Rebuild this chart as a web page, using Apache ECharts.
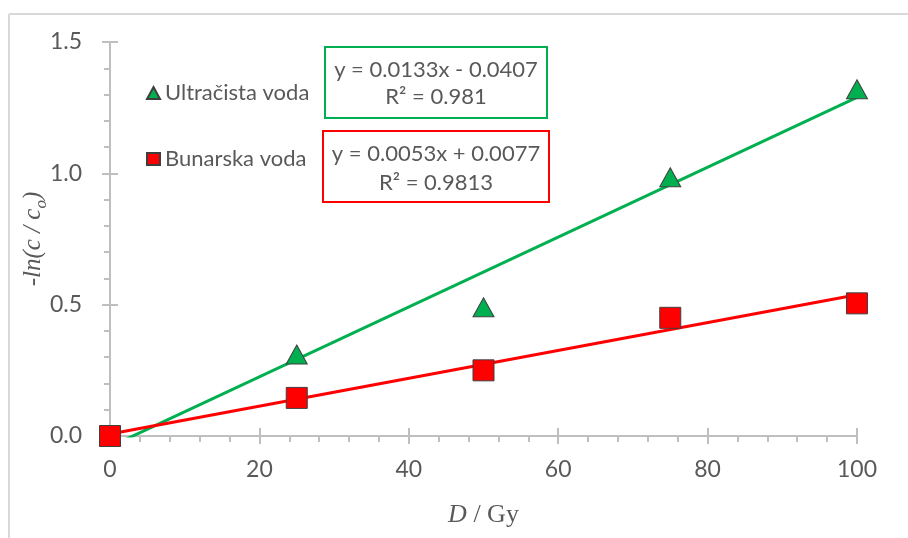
<!DOCTYPE html>
<html>
<head>
<meta charset="utf-8">
<title>-ln(c/co) vs D</title>
<script src="https://cdn.jsdelivr.net/npm/echarts@6/dist/echarts.min.js"></script>
<style>
    html, body { margin: 0; padding: 0; background: #fff; }
    #chart { width: 908px; height: 538px; }
</style>
</head>
<body>
<div id="chart"></div>
<script>
// doza (Gy)
var doseGy = [0, 25, 50, 75, 100];
// -ln(c/co)
var ultraValues = [0, 0.31, 0.49, 0.985, 1.32];
var bunarValues = [0, 0.145, 0.25, 0.45, 0.505];
var seriesNames = ['Ultračista voda', 'Bunarska voda'];
// linearni trend: y = a*x + b
var fitSlope = [0.0133, 0.0053];
var fitIntercept = [-0.0407, 0.0077];
var fitR2 = ['0.981', '0.9813'];
var xTicks = [0, 20, 40, 60, 80, 100];
var yTicks = ['0.0', '0.5', '1.0', '1.5'];

var green = '#00B050';
var red = '#FF0000';
var textGray = '#595959';
var axisGray = '#BFBFBF';

function pairs(xs, ys) {
    return xs.map(function (x, i) { return [x, ys[i]]; });
}

function trendData(k) {
    var x0 = doseGy[0], x1 = doseGy[doseGy.length - 1];
    return [[x0, fitSlope[k] * x0 + fitIntercept[k]], [x1, fitSlope[k] * x1 + fitIntercept[k]]];
}

function eqText(k) {
    var b = fitIntercept[k];
    return 'y = ' + fitSlope[k].toFixed(4) + 'x ' + (b < 0 ? '- ' : '+ ') + Math.abs(b).toFixed(4) +
        '\nR² = ' + fitR2[k];
}

var myChart = echarts.init(document.getElementById('chart'));

var baseAxis = {
    type: 'value',
    axisLine: { show: true, lineStyle: { color: axisGray, width: 2 } },
    splitLine: { show: false }
};

var option = {
    animation: false,
    backgroundColor: '#fff',
    grid: { left: 110, right: 51, top: 42, bottom: 102 },
    legend: {
        data: seriesNames,
        orient: 'vertical',
        left: 141,
        top: 77,
        itemGap: 44,
        itemWidth: 13,
        itemHeight: 12,
        textStyle: { color: textGray, fontFamily: 'Lato', fontSize: 22 }
    },
    xAxis: [
        Object.assign({}, baseAxis, {
            min: 0, max: 100, interval: 20,
            name: '{i|D}{n| / Gy}',
            nameLocation: 'middle',
            nameGap: 66,
            nameMoveOverlap: false,
            nameTextStyle: {
                rich: {
                    i: { fontFamily: 'Liberation Serif', fontStyle: 'italic', fontSize: 26, color: textGray },
                    n: { fontFamily: 'Liberation Serif', fontSize: 26, color: textGray }
                }
            },
            axisTick: { show: true, length: 8, lineStyle: { color: axisGray, width: 2 } },
            minorTick: { show: true, splitNumber: 5, length: 6, lineStyle: { color: axisGray, width: 2 } },
            axisLabel: {
                margin: 22, color: textGray, fontFamily: 'Lato', fontSize: 23,
                formatter: function (v) { return xTicks.indexOf(v) >= 0 ? String(v) : ''; }
            }
        }),
        Object.assign({}, baseAxis, {
            min: 0, max: 100, interval: 20, position: 'bottom',
            axisLine: { show: false },
            axisTick: { show: true, inside: true, length: 8, lineStyle: { color: axisGray, width: 2 } },
            axisLabel: { show: false }
        })
    ],
    yAxis: [
        Object.assign({}, baseAxis, {
            min: 0, max: 1.5, interval: 0.5,
            name: '{i|-ln(c / c}{s|o}{i|)}',
            nameLocation: 'middle',
            nameRotate: 90,
            nameGap: 62,
            nameMoveOverlap: false,
            nameTextStyle: {
                rich: {
                    i: { fontFamily: 'Liberation Serif', fontStyle: 'italic', fontSize: 25, color: textGray, lineHeight: 30 },
                    s: { fontFamily: 'Liberation Serif', fontStyle: 'italic', fontSize: 17, color: textGray, lineHeight: 30, verticalAlign: 'bottom', padding: [0, 0, -2, 0] }
                }
            },
            axisTick: { show: true, length: 8, lineStyle: { color: axisGray, width: 2 } },
            minorTick: { show: true, splitNumber: 5, length: 6, lineStyle: { color: axisGray, width: 2 } },
            axisLabel: {
                margin: 28, color: textGray, fontFamily: 'Lato', fontSize: 23,
                formatter: function (v) { return yTicks[Math.round(v / 0.5)]; }
            }
        }),
        Object.assign({}, baseAxis, {
            min: 0, max: 1.5, interval: 0.5, position: 'left',
            axisLine: { show: false },
            axisTick: { show: true, inside: true, length: 8, lineStyle: { color: axisGray, width: 2 } },
            axisLabel: { show: false }
        })
    ],
    series: [
        {
            name: 'trend-ultra',
            type: 'line',
            data: trendData(0),
            showSymbol: false,
            clip: true,
            z: 2,
            lineStyle: { color: green, width: 3 },
            itemStyle: { color: green }
        },
        {
            name: 'trend-bunar',
            type: 'line',
            data: trendData(1),
            showSymbol: false,
            clip: true,
            z: 2,
            lineStyle: { color: red, width: 3 },
            itemStyle: { color: red }
        },
        {
            name: seriesNames[0],
            type: 'scatter',
            data: pairs(doseGy, ultraValues),
            symbol: 'triangle',
            symbolSize: [21, 19],
            z: 4,
            itemStyle: { color: green, borderColor: '#3F3F3F', borderWidth: 1, opacity: 1 }
        },
        {
            name: seriesNames[1],
            type: 'scatter',
            data: pairs(doseGy, bunarValues),
            symbol: 'rect',
            symbolSize: 21,
            z: 5,
            itemStyle: { color: red, borderColor: '#3F3F3F', borderWidth: 1, opacity: 1 }
        }
    ],
    graphic: [
        // okvir
        { type: 'line', shape: { x1: 9, y1: 14, x2: 908, y2: 14 }, style: { stroke: '#D9D9D9', lineWidth: 2 } },
        { type: 'line', shape: { x1: 9, y1: 14, x2: 9, y2: 538 }, style: { stroke: '#D9D9D9', lineWidth: 2 } },
        // jednadzbe
        { type: 'rect', shape: { x: 325, y: 47, width: 222, height: 71 }, style: { fill: '#fff', stroke: green, lineWidth: 2 }, z: 10 },
        {
            type: 'text', x: 436, y: 83, z: 11,
            style: { text: eqText(0), fill: textGray, fontFamily: 'Lato', fontSize: 22, lineHeight: 27, align: 'center', verticalAlign: 'middle' }
        },
        { type: 'rect', shape: { x: 323, y: 131, width: 226, height: 71 }, style: { fill: '#fff', stroke: red, lineWidth: 2 }, z: 10 },
        {
            type: 'text', x: 436, y: 168, z: 11,
            style: { text: eqText(1), fill: textGray, fontFamily: 'Lato', fontSize: 22, lineHeight: 29, align: 'center', verticalAlign: 'middle' }
        }
    ]
};

myChart.setOption(option);
</script>
</body>
</html>
